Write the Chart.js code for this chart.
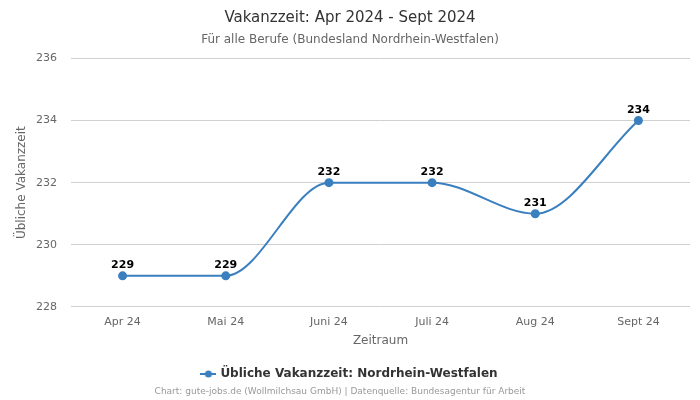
<!DOCTYPE html>
<html>
<head>
<meta charset="utf-8">
<script src="https://cdn.jsdelivr.net/npm/chart.js@4"></script>
<style>
  html, body { margin: 0; padding: 0; background: #fff; }
  #wrap { width: 700px; height: 400px; position: relative; }
</style>
</head>
<body>
<div id="wrap"><canvas id="myChart"></canvas></div>
<script>
// chart data
var months = ["Apr 24", "Mai 24", "Juni 24", "Juli 24", "Aug 24", "Sept 24"];
var vakanzzeit = [229, 229, 232, 232, 231, 234];
var yTicks = [228, 230, 232, 234, 236];

var lineColor = "#3a7fbf";
Chart.defaults.font.family = "'DejaVu Sans', sans-serif";

// legend marker: short line with a dot in the middle
var marker = document.createElement("canvas");
marker.width = 16;
marker.height = 10;
var mctx = marker.getContext("2d");
mctx.strokeStyle = lineColor;
mctx.lineWidth = 2;
mctx.beginPath();
mctx.moveTo(0, 5);
mctx.lineTo(16, 5);
mctx.stroke();
mctx.fillStyle = lineColor;
mctx.beginPath();
mctx.arc(8, 5, 3.5, 0, Math.PI * 2);
mctx.fill();

// value labels above each point
var valueLabels = {
    id: "valueLabels",
    afterDatasetsDraw: function(chart) {
        var ctx = chart.ctx;
        var meta = chart.getDatasetMeta(0);
        ctx.save();
        ctx.font = "bold 11px 'DejaVu Sans', sans-serif";
        ctx.fillStyle = "#000";
        ctx.textAlign = "center";
        ctx.textBaseline = "bottom";
        meta.data.forEach(function(pt, i) {
            ctx.fillText(chart.data.datasets[0].data[i], pt.x, pt.y - 5);
        });
        ctx.restore();
    }
};

var chart = new Chart(document.getElementById("myChart"), {
    type: "line",
    data: {
        labels: months,
        datasets: [{
            label: "Übliche Vakanzzeit: Nordrhein-Westfalen",
            data: vakanzzeit,
            borderColor: lineColor,
            backgroundColor: lineColor,
            borderWidth: 2,
            pointRadius: 3.5,
            pointHoverRadius: 3.5,
            pointStyle: "circle",
            cubicInterpolationMode: "monotone",
            fill: false
        }]
    },
    options: {
        responsive: true,
        maintainAspectRatio: false,
        animation: false,
        layout: { padding: { left: 10, right: 10, top: 0, bottom: 0 } },
        plugins: {
            title: {
                display: true,
                text: "Vakanzzeit: Apr 2024 - Sept 2024",
                color: "#333",
                font: { size: 15, weight: "normal" },
                padding: { top: 9, bottom: 6 }
            },
            subtitle: {
                display: true,
                text: "Für alle Berufe (Bundesland Nordrhein-Westfalen)",
                color: "#666",
                font: { size: 12 },
                padding: { bottom: 11 }
            },
            legend: {
                position: "bottom",
                labels: {
                    usePointStyle: true,
                    pointStyle: marker,
                    color: "#333",
                    font: { size: 12, weight: "bold" },
                    padding: 12
                }
            },
            tooltip: { enabled: false }
        },
        scales: {
            x: {
                offset: true,
                grid: { display: false },
                border: { display: false },
                ticks: { color: "#666", font: { size: 11 }, padding: 1 },
                title: {
                    display: true,
                    text: "Zeitraum",
                    color: "#666",
                    font: { size: 12 },
                    padding: { top: 3.5, bottom: 8 }
                }
            },
            y: {
                min: yTicks[0],
                max: yTicks[yTicks.length - 1],
                afterBuildTicks: function(axis) {
                    axis.ticks = yTicks.map(function(v) { return { value: v }; });
                },
                afterFit: function(axis) {
                    axis.width = 61;
                },
                grid: { color: "#d0d0d0", drawTicks: false },
                border: { display: false },
                ticks: { color: "#666", font: { size: 11 }, padding: 14 },
                title: {
                    display: true,
                    text: "Übliche Vakanzzeit",
                    color: "#666",
                    font: { size: 12 },
                    padding: { top: 5, bottom: 0 }
                }
            }
        }
    },
    plugins: [valueLabels, {
        id: "credits",
        afterDraw: function(chart) {
            var ctx = chart.ctx;
            ctx.save();
            ctx.font = "9px 'DejaVu Sans', sans-serif";
            ctx.fillStyle = "#999";
            ctx.textAlign = "center";
            ctx.textBaseline = "middle";
            ctx.fillText("Chart: gute-jobs.de (Wollmilchsau GmbH) | Datenquelle: Bundesagentur für Arbeit", 340, 392);
            ctx.restore();
        }
    }, {
        id: "bottomSpace",
        beforeInit: function(chart) {
            var fit = chart.legend.fit;
            chart.legend.fit = function() {
                fit.bind(chart.legend)();
                this.height += 10;
            };
        }
    }]
});
</script>
</body>
</html>
